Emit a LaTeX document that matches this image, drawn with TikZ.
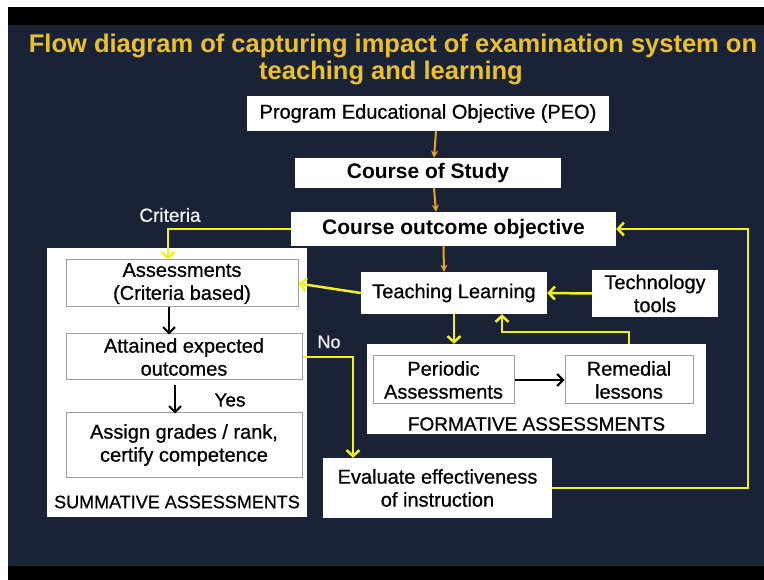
\documentclass[tikz,border=0pt]{standalone}
\usepackage{fontspec}
\setmainfont{Liberation Sans}
\newfontfamily\heavysans{Liberation Sans}[FakeBold=0.7]
\usetikzlibrary{positioning, arrows.meta}
\definecolor{slidebg}{RGB}{26,35,54}
\definecolor{titlegold}{RGB}{236,192,42}
\definecolor{linkyellow}{RGB}{242,242,24}
\definecolor{linkorange}{RGB}{232,165,35}
\tikzset{
x=1pt, y=-1pt, % one unit is one pixel, y runs downwards
title/.style={text=titlegold, font=\fontsize{25.5}{27}\selectfont\bfseries}, % heading lines
box/.style={fill=white, inner sep=2pt, align=center, font=\fontsize{20}{23}\selectfont\heavysans}, % white box on the dark slide
bold/.style={font=\fontsize{21}{24}\selectfont\bfseries}, % the bigger bold boxes
inbox/.style={box, draw=gray!75, line width=1pt}, % box sitting inside a panel
panel/.style={fill=white, inner sep=0pt}, % white panel round a group of boxes
lbl/.style={text=gray!10, font=\fontsize{19}{22}\selectfont\heavysans}, % labels on the dark background
yel/.style={draw=linkyellow, line width=2.5pt, -{Straight Barb[length=6pt, width=13pt, line width=2.5pt]}}, % yellow flow lines
org/.style={draw=linkorange, line width=2pt, -{Stealth[length=7pt, width=7pt]}}, % orange links down the middle
blk/.style={draw=black, line width=2pt, -{Straight Barb[length=6pt, width=12pt, line width=2pt]}}, % black links inside panels
}
\begin{document}
\begin{tikzpicture}
    % slide background
    \fill[white] (0,0) rectangle (764,580);
    \fill[black] (8,7) rectangle (764,25);
    \fill[slidebg] (8,25) rectangle (764,566);
    \fill[black] (8,566) rectangle (764,580);

    \node[title, anchor=base] (head1) at (393,53) {Flow diagram of capturing impact of examination system on};
    \node[title, anchor=base] (head2) at (391,80) {teaching and learning};

    % panels first, so the boxes sit on them
    \node[panel, minimum width=260pt, minimum height=269pt] (summ) at (177,382.5) {};
    \node[panel, minimum width=339pt, minimum height=90pt] (form) at (536.5,389) {};

    \node[box, minimum width=362pt, minimum height=35pt] (peo) at (428,113.5) {Program Educational Objective (PEO)};
    \node[box, bold, minimum width=266pt, minimum height=30pt, below of=peo, node distance=59.5pt] (cos) {Course of Study};
    \node[box, bold, minimum width=325pt, minimum height=34pt] (coo) at (453.5,229) {Course outcome objective};
    \node[box, minimum width=186pt, minimum height=42pt] (tl) at (454,293) {Teaching Learning};
    \node[box, minimum width=126pt, minimum height=47pt] (tech) at (655,293.5) {Technology\\tools};
    \node[box, minimum width=229pt, minimum height=60pt] (eval) at (437.5,488) {Evaluate effectiveness\\of instruction};

    \node[inbox, minimum width=232pt, minimum height=47pt] (ass) at (182,283.5) {Assessments\\(Criteria based)};
    \node[inbox, minimum width=236pt, minimum height=46pt] (att) at (184,357) {Attained expected\\outcomes};
    \node[inbox, minimum width=236pt, minimum height=64pt] (asg) at (184,445) {Assign grades / rank,\\certify competence};
    \node[font=\fontsize{18}{21}\selectfont\heavysans] (summlbl) at (177,502) {SUMMATIVE ASSESSMENTS};

    \node[inbox, minimum width=141pt, minimum height=48pt] (per) at (443.5,380) {Periodic\\Assessments};
    \node[inbox, minimum width=128pt, minimum height=48pt, right of=per, node distance=185.5pt] (rem) {Remedial\\lessons};
    \node[font=\fontsize{19}{22}\selectfont\heavysans] (formlbl) at (536.5,424) {FORMATIVE ASSESSMENTS};

    \node[lbl] (crit) at (170,215) {Criteria};
    \node[lbl, font=\fontsize{18}{21}\selectfont\heavysans] (no) at (329,342) {No};
    \node[lbl, text=black] (yes) at (230,400) {Yes};

    \draw[org] ([xshift=8pt]peo.south) -- ([xshift=6pt]cos.north);
    \draw[org] ([xshift=6pt]cos.south) -- ([xshift=-17.5pt]coo.north);
    \draw[org] ([xshift=-10pt]coo.south) -- ([xshift=-10pt]tl.north);

    \draw[blk] ([xshift=-13pt]ass.south) -- ++(0,27);
    \draw[blk] ([shift={(-9,5)}]att.south) -- ++(0,28);
    \draw[blk] (per) edge (rem);

    \draw[yel] (coo.west) -| ([xshift=-14pt]ass.north);
    \draw[yel] (tl.west) -- (ass.east);
    \draw[yel] (tech.west) -- (tl.east);
    \draw[yel] (tl.south) -- (tl.south |- form.north);
    \draw[yel] (rem.north |- form.north) -- ++(0,-12) -| ([xshift=48pt]tl.south);
    \draw[yel] (att.east) -| ([xshift=-84.5pt]eval.north);
    \draw[yel] (eval.east) -- ++(196,0) |- (coo.east);
  \end{tikzpicture}
\end{document}
